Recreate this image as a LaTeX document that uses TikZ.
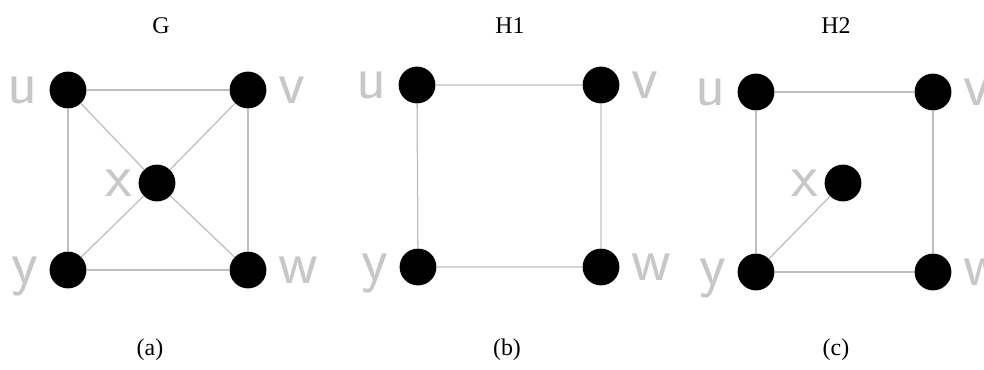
\documentclass[tikz,border=0pt]{standalone}
\usepackage{fontspec}
\setmainfont{Liberation Serif}
\usepackage{tikz}

\begin{document}
\begin{tikzpicture}[x=0.025cm, y=-0.025cm, label distance=8pt,
        vtx/.style={circle, fill=black, minimum size=0.92cm, inner sep=0pt},
        lbl/.style={text=black!22, font=\sffamily\fontsize{44}{44}\selectfont,
            text height=19.5pt, text depth=0pt, inner sep=0pt},
        edge/.style={black!25, line width=0.9pt},
        title/.style={font=\fontsize{17}{20}\selectfont, anchor=base}]
        \useasboundingbox (0,0) rectangle (984,369);

        % Titles and captions
        \node[title] (tG) at (161,33) {G};
        \node[title] (tH1) at (510,33) {H1};
        \node[title] (tH2) at (836,33) {H2};
        \node[title] (ca) at (150,355) {(a)};
        \node[title] (cb) at (507,355) {(b)};
        \node[title] (cc) at (836,355) {(c)};

        % Graph G
        \node[vtx, label={[lbl]left:u}] (Gu) at (68,90) {};
        \node[vtx, label={[lbl]right:v}] (Gv) at (248,90) {};
        \node[vtx, label={[lbl, label distance=4pt]left:x}] (Gx) at (157,183) {};
        \node[vtx, label={[lbl]left:y}] (Gy) at (68,270) {};
        \node[vtx, label={[lbl]right:w}] (Gw) at (248,270) {};
        \draw[edge] (Gu) -- (Gv) -- (Gw) -- (Gy) -- (Gu);
        \draw[edge] (Gu) -- (Gx) -- (Gw);
        \draw[edge] (Gy) -- (Gx) -- (Gv);

        % Graph H1
        \node[vtx, label={[lbl]left:u}] (Au) at (417,85) {};
        \node[vtx, label={[lbl]right:v}] (Av) at (601,85) {};
        \node[vtx, label={[lbl]left:y}] (Ay) at (418,267) {};
        \node[vtx, label={[lbl]right:w}] (Aw) at (601,267) {};
        \draw[edge] (Au) -- (Av) -- (Aw) -- (Ay) -- (Au);

        % Graph H2
        \node[vtx, label={[lbl]left:u}] (Bu) at (756,92) {};
        \node[vtx, label={[lbl]right:v}] (Bv) at (933,92) {};
        \node[vtx, label={[lbl, label distance=4pt]left:x}] (Bx) at (843,183) {};
        \node[vtx, label={[lbl]left:y}] (By) at (756,272) {};
        \node[vtx, label={[lbl]right:w}] (Bw) at (933,272) {};
        \draw[edge] (Bu) -- (Bv) -- (Bw) -- (By) -- (Bu);
        \draw[edge] (By) -- (Bx);
\end{tikzpicture}
\end{document}
